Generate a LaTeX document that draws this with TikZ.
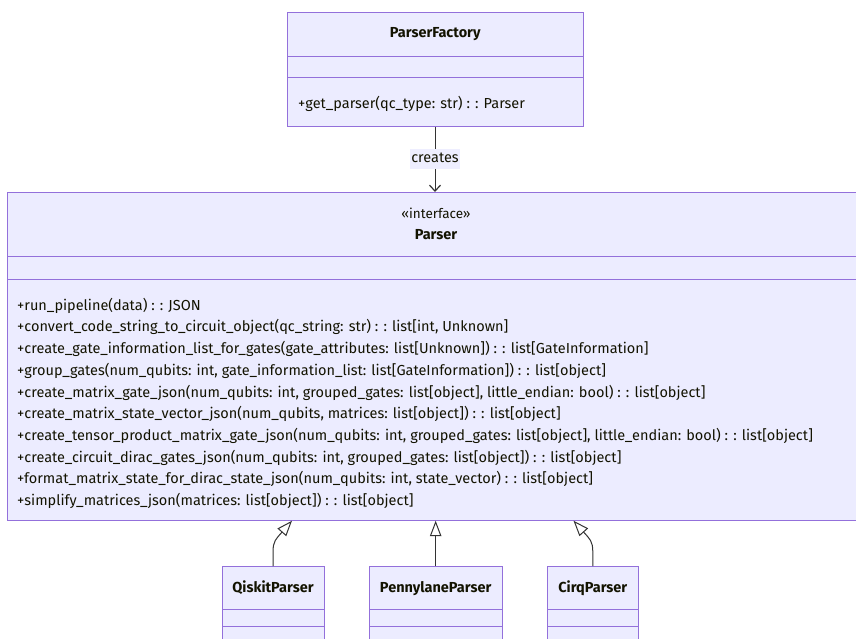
\documentclass[tikz,border=0pt]{standalone}
\usepackage{fontspec}
\setmainfont{Fira Sans}
\usetikzlibrary{arrows.meta}

\definecolor{boxfill}{HTML}{ECECFF}
\definecolor{boxline}{HTML}{9370DB}
\definecolor{edge}{HTML}{333333}
\definecolor{txt}{HTML}{131300}
\definecolor{lblfill}{HTML}{EEEEFF}

\newcommand{\memberfont}{\fontsize{14.5}{16}\selectfont}

\tikzset{
  classbox/.style={draw=boxline, fill=boxfill, line width=1pt, inner sep=0pt},
  divider/.style={draw=boxline, line width=1pt},
  member/.style={anchor=west, inner sep=0pt, text=txt, font=\memberfont,
    text height=10pt, text depth=3pt},
  title/.style={anchor=center, inner sep=0pt, text=txt, font=\memberfont\bfseries,
    text height=10pt, text depth=3pt},
  stereo/.style={anchor=center, inner sep=0pt, text=txt, font=\fontsize{13.5}{16}\selectfont,
    text height=10pt, text depth=3pt},
  assoc/.style={draw=edge, line width=1pt, -{Straight Barb[length=6pt, width=11pt, line width=1.2pt]}},
  inherit/.style={draw=edge, line width=1pt, -{Triangle[open, fill=white, length=15.5pt, width=11.5pt, line width=1pt]}},
  edgelabel/.style={fill=lblfill, inner xsep=1pt, inner ysep=3.5pt, text=txt,
    font=\memberfont, text height=10pt, text depth=3pt}
}

\begin{document}
\begin{tikzpicture}[x=1pt, y=-1pt]
\useasboundingbox (0,0) rectangle (856,638);
\fill[white] (0,0) rectangle (856,638);

% ParserFactory
\node[classbox, minimum width=295.5pt, minimum height=113.5pt] (pf) at (435.25,69.5) {};
\draw[divider] (287.5,56) -- (583,56);
\draw[divider] (287.5,77.7) -- (583,77.7);
\node[title] (pfname) at (435.25,34) {ParserFactory};
\node[member] (pfm1) at (298,105) {+get\_parser(qc\_type: str) : : Parser};

% Parser (interface)
\node[classbox, minimum width=857pt, minimum height=328.2pt] (parser) at (436,356.6) {};
\draw[divider] (7.5,256.7) -- (870,256.7);
\draw[divider] (7.5,279.3) -- (870,279.3);
\node[stereo] (pstereo) at (436,215) {«interface»};
\node[title] (pname) at (436,236) {Parser};
\node[member] (m1)  at (17,306.7) {+run\_pipeline(data) : : JSON};
\node[member] (m2)  at (17,328.4) {+convert\_code\_string\_to\_circuit\_object(qc\_string: str) : : list[int, Unknown]};
\node[member] (m3)  at (17,350.1) {+create\_gate\_information\_list\_for\_gates(gate\_attributes: list[Unknown]) : : list[GateInformation]};
\node[member] (m4)  at (17,371.8) {+group\_gates(num\_qubits: int, gate\_information\_list: list[GateInformation]) : : list[object]};
\node[member] (m5)  at (17,393.5) {+create\_matrix\_gate\_json(num\_qubits: int, grouped\_gates: list[object], little\_endian: bool) : : list[object]};
\node[member] (m6)  at (17,415.2) {+create\_matrix\_state\_vector\_json(num\_qubits, matrices: list[object]) : : list[object]};
\node[member] (m7)  at (17,436.9) {+create\_tensor\_product\_matrix\_gate\_json(num\_qubits: int, grouped\_gates: list[object], little\_endian: bool) : : list[object]};
\node[member] (m8)  at (17,458.6) {+create\_circuit\_dirac\_gates\_json(num\_qubits: int, grouped\_gates: list[object]) : : list[object]};
\node[member] (m9)  at (17,480.3) {+format\_matrix\_state\_for\_dirac\_state\_json(num\_qubits: int, state\_vector) : : list[object]};
\node[member] (m10) at (17,502.0) {+simplify\_matrices\_json(matrices: list[object]) : : list[object]};

% Implementations
\node[classbox, minimum width=102pt, minimum height=90pt] (qk) at (273,611.7) {};
\draw[divider] (222,609.3) -- (324,609.3);
\draw[divider] (222,626) -- (324,626);
\node[title] (qkname) at (273,589) {QiskitParser};

\node[classbox, minimum width=132.7pt, minimum height=90pt] (pl) at (435.65,611.7) {};
\draw[divider] (369.3,609.3) -- (502,609.3);
\draw[divider] (369.3,626) -- (502,626);
\node[title] (plname) at (435.65,589) {PennylaneParser};

\node[classbox, minimum width=91pt, minimum height=90pt] (cq) at (592.8,611.7) {};
\draw[divider] (547.3,609.3) -- (638.3,609.3);
\draw[divider] (547.3,626) -- (638.3,626);
\node[title] (cqname) at (592.8,589) {CirqParser};

% Connectors
\coordinate (qktip) at (292,520.7);
\coordinate (pltip) at (435.65,520.7);
\coordinate (cqtip) at (573.5,520.7);

\draw[assoc] (pf.south -| 435,0) -- (parser.north -| 435,0)
  node[edgelabel, pos=0.5] (lbl) {creates};

\draw[inherit] (qk.north) -- (273,552) .. controls (273,541) and (276,539) .. (qktip);
\draw[inherit] (pl.north) -- (pltip);
\draw[inherit] (cq.north) -- (592.8,552) .. controls (592.8,541) and (589.8,539) .. (cqtip);
\end{tikzpicture}
\end{document}
